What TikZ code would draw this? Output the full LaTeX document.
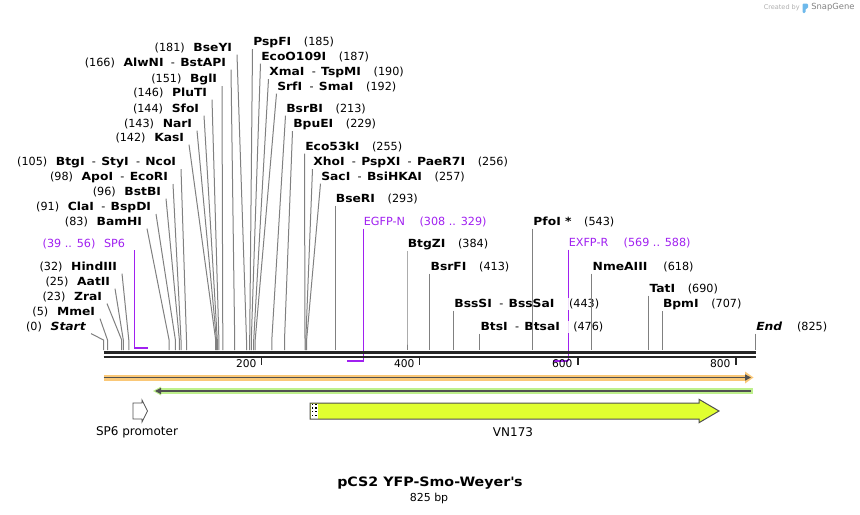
\documentclass[tikz,border=0pt]{standalone}
\usepackage{fontspec}
\setmainfont{DejaVu Sans}[BoldFeatures={FakeStretch=1.1},BoldItalicFeatures={FakeStretch=1.1}]
\usepackage{tikz}
\usetikzlibrary{arrows.meta}

\definecolor{cutgray}{RGB}{128,128,128}
\definecolor{bbdark}{RGB}{38,38,38}
\definecolor{primer}{RGB}{160,32,240}
\definecolor{orangeband}{RGB}{250,200,120}
\definecolor{greenband}{RGB}{190,240,140}
\definecolor{vnfill}{RGB}{224,255,48}
\definecolor{featline}{RGB}{80,80,80}
\definecolor{wmgray}{RGB}{175,175,175}
\definecolor{wmdark}{RGB}{130,130,130}
\definecolor{logoblue}{RGB}{110,185,235}

\begin{document}
\begin{tikzpicture}[x=0.75pt,y=0.75pt,yscale=-1,xscale=1,
  lab/.style={font=\fontsize{8.4}{10}\selectfont, inner ysep=1pt},
  labl/.style={lab, anchor=east, inner xsep=3.5pt},
  labr/.style={lab, anchor=west, inner xsep=0.4pt},
  primlab/.style={text=primer},
  fadefill/.style={fill=white, fill opacity=0.85, text opacity=1},
  leader/.style={draw=cutgray, line width=0.75},
  primvert/.style={draw=primer, line width=0.8},
  primbar/.style={draw=primer, line width=1.5},
  backbone/.style={draw=bbdark, line width=1.9},
  axtick/.style={draw=bbdark, line width=1.2},
  axlab/.style={font=\fontsize{8}{10}\selectfont, anchor=east, inner sep=1pt},
  featlab/.style={font=\fontsize{9}{11}\selectfont, inner sep=1pt}]
\useasboundingbox (0,0) rectangle (860,514);

%watermark
\node [font=\fontsize{4.9}{6}\selectfont, text=wmgray, anchor=east, inner sep=0] (created) at (800,7.5) {Created by};
\fill [logoblue, rounded corners=0.8] (802.5,3.5) -- (808,3.5) -- (808,8.5) -- (805.5,8.5) -- (805.5,13) -- (802.5,13) -- cycle;
\node [font=\fontsize{6.3}{8}\selectfont, text=wmdark, anchor=west, inner sep=0] (snapgene) at (811,7.5) {SnapGene};

%cut sites (top of the short ticks)
\coordinate (s0) at (103.5,340);
\coordinate (s5) at (107.5,340);
\coordinate (s23) at (121.7,340);
\coordinate (s25) at (123.3,340);
\coordinate (s32) at (128.8,340);
\coordinate (s83) at (169.1,340);
\coordinate (s91) at (175.4,340);
\coordinate (s96) at (179.4,340);
\coordinate (s98) at (181.0,340);
\coordinate (s105) at (186.5,340);
\coordinate (s142) at (215.7,340);
\coordinate (s143) at (216.5,340);
\coordinate (s144) at (217.3,340);
\coordinate (s146) at (218.9,340);
\coordinate (s151) at (222.8,340);
\coordinate (s166) at (234.7,340);
\coordinate (s181) at (246.5,340);
\coordinate (s185) at (249.7,340);
\coordinate (s187) at (251.3,340);
\coordinate (s190) at (253.7,340);
\coordinate (s192) at (255.2,340);
\coordinate (s213) at (271.8,340);
\coordinate (s229) at (284.5,340);
\coordinate (s255) at (305.0,340);
\coordinate (s256) at (305.8,340);
\coordinate (s257) at (306.6,340);
\coordinate (s293) at (335.1,340);
\coordinate (s384) at (407.0,340);
\coordinate (s413) at (429.9,340);
\coordinate (s443) at (453.6,340);
\coordinate (s476) at (479.7,340);
\coordinate (s543) at (532.6,340);
\coordinate (s618) at (591.9,340);
\coordinate (s690) at (648.8,340);
\coordinate (s707) at (662.2,340);
\coordinate (s825) at (755.5,340);

%primers
\coordinate (p39top) at (134.3,250);
\coordinate (p39) at (134.3,348);
\coordinate (p56) at (147.8,348);
\coordinate (p308) at (346.9,361);
\coordinate (p329) at (363.5,361);
\coordinate (p569) at (553.2,361);
\coordinate (p588) at (568.2,361);

% Text Node (left side)
\node [labl] (bseyi) at (237,48) {(181)\hspace{6.5pt}\textbf{BseYI}};
\node [labl] (alwni) at (231,63) {(166)\hspace{6.5pt}\textbf{AlwNI}\hspace{5.5pt}-\hspace{4pt}\textbf{BstAPI}};
\node [labl] (bgli) at (222,79) {(151)\hspace{6.5pt}\textbf{BglI}};
\node [labl] (pluti) at (212,93) {(146)\hspace{6.5pt}\textbf{PluTI}};
\node [labl] (sfoi) at (204,109) {(144)\hspace{6.5pt}\textbf{SfoI}};
\node [labl] (nari) at (197,124) {(143)\hspace{6.5pt}\textbf{NarI}};
\node [labl] (kasi) at (189,138) {(142)\hspace{6.5pt}\textbf{KasI}};
\node [labl] (btgi) at (181,162) {(105)\hspace{6.5pt}\textbf{BtgI}\hspace{5.5pt}-\hspace{4pt}\textbf{StyI}\hspace{5.5pt}-\hspace{4pt}\textbf{NcoI}};
\node [labl] (apoi) at (173,177) {(98)\hspace{6.5pt}\textbf{ApoI}\hspace{5.5pt}-\hspace{4pt}\textbf{EcoRI}};
\node [labl] (bstbi) at (166,192) {(96)\hspace{6.5pt}\textbf{BstBI}};
\node [labl] (clai) at (156,207) {(91)\hspace{6.5pt}\textbf{ClaI}\hspace{5.5pt}-\hspace{4pt}\textbf{BspDI}};
\node [labl] (bamhi) at (147,222) {(83)\hspace{6.5pt}\textbf{BamHI}};
\node [labl, primlab] (sp6) at (130,244) {(39 .. 56)\hspace{6.5pt}SP6};
\node [labl] (hindiii) at (122,267) {(32)\hspace{6.5pt}\textbf{HindIII}};
\node [labl] (aatii) at (115,282) {(25)\hspace{6.5pt}\textbf{AatII}};
\node [labl] (zrai) at (107,297) {(23)\hspace{6.5pt}\textbf{ZraI}};
\node [labl] (mmei) at (100,312) {(5)\hspace{6.5pt}\textbf{MmeI}};
\node [labl] (start) at (91,327) {(0)\hspace{6.5pt}\textbf{\textit{Start}}};

% Text Node (right side)
\node [labr] (pspfi) at (252.5,42) {\textbf{PspFI}\hspace{9.5pt}(185)};
\node [labr] (ecoo) at (260.5,57) {\textbf{EcoO109I}\hspace{9.5pt}(187)};
\node [labr] (xmai) at (268.5,72) {\textbf{XmaI}\hspace{5.5pt}-\hspace{4pt}\textbf{TspMI}\hspace{9.5pt}(190)};
\node [labr] (srfi) at (276.5,87) {\textbf{SrfI}\hspace{5.5pt}-\hspace{4pt}\textbf{SmaI}\hspace{9.5pt}(192)};
\node [labr] (bsrbi) at (285.5,109) {\textbf{BsrBI}\hspace{9.5pt}(213)};
\node [labr] (bpuei) at (292.5,124) {\textbf{BpuEI}\hspace{9.5pt}(229)};
\node [labr] (ecoks) at (304.5,147) {\textbf{Eco53kI}\hspace{9.5pt}(255)};
\node [labr] (xhoi) at (312.5,162) {\textbf{XhoI}\hspace{5.5pt}-\hspace{4pt}\textbf{PspXI}\hspace{5.5pt}-\hspace{4pt}\textbf{PaeR7I}\hspace{9.5pt}(256)};
\node [labr] (saci) at (320.5,177) {\textbf{SacI}\hspace{5.5pt}-\hspace{4pt}\textbf{BsiHKAI}\hspace{9.5pt}(257)};
\node [labr] (bseri) at (335.1,199) {\textbf{BseRI}\hspace{9.5pt}(293)};
\node [labr, primlab] (egfpn) at (363,222) {EGFP-N\hspace{11pt}(308 .. 329)};
\node [labr] (btgzi) at (407,244) {\textbf{BtgZI}\hspace{9.5pt}(384)};
\node [labr] (bsrfi) at (429.9,267) {\textbf{BsrFI}\hspace{9.5pt}(413)};
\node [labr] (pfoi) at (532.6,222) {\textbf{PfoI *}\hspace{9.5pt}(543)};
\node [labr, primlab] (exfpr) at (568,243) {EXFP-R\hspace{11.5pt}(569 .. 588)};
\node [labr] (nmeaiii) at (591.9,267) {\textbf{NmeAIII}\hspace{12pt}(618)};
\node [labr] (tati) at (648.8,289) {\textbf{TatI}\hspace{9.5pt}(690)};
\node [labr] (bpmi) at (662.2,304) {\textbf{BpmI}\hspace{9.5pt}(707)};
\node [labr] (endl) at (755.5,327) {\textbf{\textit{End}}\hspace{11pt}(825)};

%Primer lines
\draw [primvert] (p39top) -- (p39);
\draw [primbar] (p39) -- (p56);
\draw [primvert] (egfpn.south west -| p329) -- (p329);
\draw [primbar] (p329) -- (p308);
\draw [primvert] (exfpr.south west -| p588) -- (p588);
\draw [primbar] (p588) -- (p569);

% labels drawn over the EXFP-R line
\node [labr, fadefill] (bsssi) at (453.6,304) {\textbf{BssSI}\hspace{5.5pt}-\hspace{4pt}\textbf{BssSaI}\hspace{11pt}(443)};
\node [labr, fadefill] (btsi) at (479.7,327) {\textbf{BtsI}\hspace{5.5pt}-\hspace{4pt}\textbf{BtsaI}\hspace{10pt}(476)};

%Straight Lines (leaders + site ticks)
\draw [leader] (start.south east) -- (s0) -- ++(0,10);
\draw [leader] (mmei.south east) -- (s5) -- ++(0,10);
\draw [leader] (zrai.south east) -- (s23) -- ++(0,10);
\draw [leader] (aatii.south east) -- (s25) -- ++(0,10);
\draw [leader] (hindiii.south east) -- (s32) -- ++(0,10);
\draw [leader] (bamhi.south east) -- (s83) -- ++(0,10);
\draw [leader] (clai.south east) -- (s91) -- ++(0,10);
\draw [leader] (bstbi.south east) -- (s96) -- ++(0,10);
\draw [leader] (apoi.south east) -- (s98) -- ++(0,10);
\draw [leader] (btgi.south east) -- (s105) -- ++(0,10);
\draw [leader] (kasi.south east) -- (s142) -- ++(0,10);
\draw [leader] (nari.south east) -- (s143) -- ++(0,10);
\draw [leader] (sfoi.south east) -- (s144) -- ++(0,10);
\draw [leader] (pluti.south east) -- (s146) -- ++(0,10);
\draw [leader] (bgli.south east) -- (s151) -- ++(0,10);
\draw [leader] (alwni.south east) -- (s166) -- ++(0,10);
\draw [leader] (bseyi.south east) -- (s181) -- ++(0,10);
\draw [leader] (pspfi.south west) -- (s185) -- ++(0,10);
\draw [leader] (ecoo.south west) -- (s187) -- ++(0,10);
\draw [leader] (xmai.south west) -- (s190) -- ++(0,10);
\draw [leader] (srfi.south west) -- (s192) -- ++(0,10);
\draw [leader] (bsrbi.south west) -- (s213) -- ++(0,10);
\draw [leader] (bpuei.south west) -- (s229) -- ++(0,10);
\draw [leader] (ecoks.south west) -- (s255) -- ++(0,10);
\draw [leader] (xhoi.south west) -- (s256) -- ++(0,10);
\draw [leader] (saci.south west) -- (s257) -- ++(0,10);
\draw [leader] (bseri.south west) -- (s293) -- ++(0,10);
\draw [leader] (btgzi.south west) -- (s384) -- ++(0,10);
\draw [leader] (bsrfi.south west) -- (s413) -- ++(0,10);
\draw [leader] (bsssi.south west) -- (s443) -- ++(0,10);
\draw [leader] (btsi.south west) -- (s476) -- ++(0,10);
\draw [leader] (pfoi.south west) -- (s543) -- ++(0,10);
\draw [leader] (nmeaiii.south west) -- (s618) -- ++(0,10);
\draw [leader] (tati.south west) -- (s690) -- ++(0,10);
\draw [leader] (bpmi.south west) -- (s707) -- ++(0,10);
\draw [leader] (endl.south west) -- (s825) -- ++(0,10);

%Backbone + ruler
\draw [backbone] (103.5,352.3) -- (755.5,352.3);
\draw [backbone] (103.5,356.8) -- (755.5,356.8);
\draw [axtick] (261.6,357) -- (261.6,364.5);
\node [axlab] (t200) at (258,364) {200};
\draw [axtick] (419.6,357) -- (419.6,364.5);
\node [axlab] (t400) at (416,364) {400};
\draw [axtick] (577.7,357) -- (577.7,364.5);
\node [axlab] (t600) at (574,364) {600};
\draw [axtick] (735.7,357) -- (735.7,364.5);
\node [axlab] (t800) at (732,364) {800};

%Feature bands
\fill [orangeband] (103.5,374.5) rectangle (747,380.5);
\fill [orangeband] (745,371.5) -- (753.5,377.5) -- (745,383.5) -- cycle;
\draw [featline, line width=1.1, -{Triangle[length=4.5pt,width=4.5pt]}] (103.5,377.5) -- (751,377.5);
\fill [greenband] (159,388) rectangle (753,394);
\fill [greenband] (161,386.5) -- (153,391) -- (161,395.5) -- cycle;
\draw [featline, line width=1.1, -{Triangle[length=4.5pt,width=4.5pt]}] (751,391) -- (155,391);

%SP6 promoter
\draw [featline, fill=white, line width=0.6] (133,403) -- (142,403) -- (142,400) -- (147.5,411) -- (142,422) -- (142,419) -- (133,419) -- cycle;
\node [featlab] (sp6prom) at (137,432.5) {SP6 promoter};

%VN173
\fill [vnfill] (310,403) -- (699,403) -- (699,399.3) -- (719,411) -- (699,422.7) -- (699,419) -- (310,419) -- cycle;
\fill [white] (310.5,403.5) rectangle (317.8,418.5);
\draw [black, dotted, line width=0.9] (312.3,403.5) -- (312.3,418.5);
\draw [black, dotted, line width=0.9] (316,403.5) -- (316,418.5);
\draw [featline, line width=0.75] (310,403) -- (699,403) -- (699,399.3) -- (719,411) -- (699,422.7) -- (699,419) -- (310,419) -- cycle;
\node [featlab] (vn173) at (513,432.5) {VN173};

%Title
\node [font=\fontsize{9.7}{12}\selectfont\bfseries] (title) at (430,483) {pCS2 YFP-Smo-Weyer\textquotesingle s};
\node [font=\fontsize{8.25}{10}\selectfont] (bplen) at (429,498) {825 bp};

\end{tikzpicture}
\end{document}
